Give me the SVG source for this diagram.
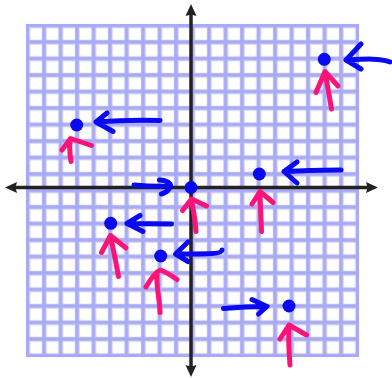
<svg xmlns="http://www.w3.org/2000/svg" width="392" height="378" viewBox="0 0 392 378">
  <style>
    .axis { stroke: #222222; stroke-width: 3.5; fill: none; }
    .head { fill: #222222; stroke: none; }
    .dot { fill: #0a0af0; }
    .blue { stroke: #0a0af0; stroke-width: 5; fill: none; stroke-linecap: round; stroke-linejoin: round; }
    .pink { stroke: #fa1478; stroke-width: 5; fill: none; stroke-linecap: round; stroke-linejoin: round; }
  </style>
  <defs>
    <pattern id="cell" patternUnits="userSpaceOnUse" x="27.5" y="25.5" width="16.5" height="16.5">
      <rect x="0" y="0" width="16.5" height="16.5" fill="#a9a9f6"/>
      <rect x="1.6" y="1.6" width="13.3" height="13.3" fill="#cfcff7"/>
      <rect x="2.3" y="2.3" width="11.9" height="11.9" fill="#e4e4ec"/>
      <rect x="3" y="3" width="11.2" height="11.2" fill="#ffffff"/>
    </pattern>
  </defs>
  <rect width="392" height="378" fill="#ffffff"/>

  <g id="grid">
    <rect x="26" y="24" width="333" height="333" fill="url(#cell)"/>
    <rect x="27.2" y="25.2" width="330.6" height="330.6" fill="none" stroke="#a9a9f6" stroke-width="2.5"/>
  </g>

  <g id="axes">
    <line class="axis" x1="191" y1="13" x2="191" y2="367"/>
    <line class="axis" x1="14" y1="187.5" x2="369" y2="187.5"/>
    <path class="head" d="M191,4 L196.5,16 L191,14.5 L185.5,16 Z"/>
    <path class="head" d="M191,377 L196.5,365 L191,366.5 L185.5,365 Z"/>
    <path class="head" d="M5,187.5 L17,182 L15.5,187.5 L17,193 Z"/>
    <path class="head" d="M378,187.5 L366,182 L367.5,187.5 L366,193 Z"/>
  </g>

  <g id="connectors">
    <g id="blue-arrows">
      <path class="blue" d="M160,120.5 C140,120 115,120.5 96,122 M107,113 L96,122 L113,131.5"/>
      <path class="blue" d="M390,62 C380,58 365,59 346,60 M361,44 L346,60 L361,69"/>
      <path class="blue" d="M341,170 C320,170 300,171 284,171.5 M297,162 L284,171.5 L297,183"/>
      <path class="blue" d="M134,185 C145,186 160,186.5 170,186 M159.5,180 C166,180 171,183 170.5,186 C169,190 165,193 161.5,194"/>
      <path class="blue" d="M171.5,224 L127,223.5 M140,215.5 L127,223.5 L143,231.5"/>
      <path class="blue" d="M222,250 C222,254 210,254 176,254 M188,242 L175.5,254 L188,261.5"/>
      <path class="blue" d="M223.5,308.5 C240,307 255,306.5 266.5,306.5 M252,299.5 L267,306.5 L258.5,314"/>
    </g>
    <g id="pink-arrows">
      <path class="pink" d="M71,161.5 C70,155 69,145 70.5,139 M62,150 L70.5,138.5 L91.5,145.5"/>
      <path class="pink" d="M331.5,109 C329,95 327,82 325,72 M316,92.5 L325,71.5 L338,86"/>
      <path class="pink" d="M261.5,231.5 C261,215 260,202 260,192 M252,204 L260,191.5 L273,202.5"/>
      <path class="pink" d="M196,231.5 C195,215 192,205 191.5,199 M182.5,210.5 L191.5,199 L206.5,206"/>
      <path class="pink" d="M118.5,276.5 C116,262 113,248 110.5,236 M101.5,252.5 L110.5,235.5 L126,248"/>
      <path class="pink" d="M160,312.5 C160,300 156,288 157,275 M146,287 C150,280 155,272 160.5,270 C166,272 172,276 177,279.5"/>
      <path class="pink" d="M290,365 C289,352 288,340 289,326 M280,339 L289,325 L306.5,335"/>
    </g>
  </g>

  <g id="point-1"><circle class="dot" cx="76.7" cy="125" r="6.5"/></g>
  <g id="point-2"><circle class="dot" cx="324.3" cy="59.3" r="6.5"/></g>
  <g id="point-3"><circle class="dot" cx="259.3" cy="174" r="6.5"/></g>
  <g id="point-origin"><circle class="dot" cx="191" cy="187.5" r="6.5"/></g>
  <g id="point-5"><circle class="dot" cx="110.7" cy="223.3" r="6.5"/></g>
  <g id="point-6"><circle class="dot" cx="160.7" cy="256" r="6.5"/></g>
  <g id="point-7"><circle class="dot" cx="289" cy="306" r="6.5"/></g>
</svg>
